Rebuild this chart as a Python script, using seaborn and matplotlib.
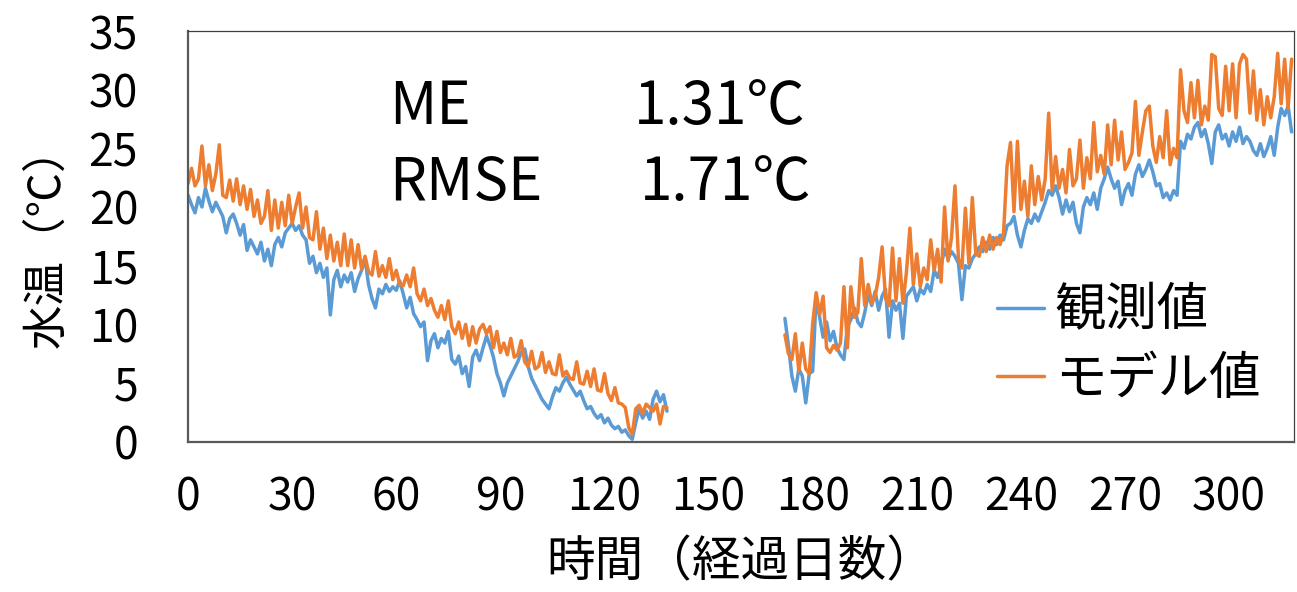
import numpy as np
import pandas as pd
import matplotlib
matplotlib.use("Agg")
import matplotlib.pyplot as plt
import seaborn as sns

# Daily water temperature (°C): observed vs. model, two measurement periods
days_early = list(range(0, 139))
obs_early = [
    21.0, 20.2, 19.5, 20.8, 20.0, 21.6, 20.5, 19.6, 20.4, 19.8,
    19.2, 17.8, 19.0, 19.4, 18.6, 17.6, 18.5, 16.3, 17.2, 16.6,
    16.0, 17.0, 15.4, 16.4, 15.0, 16.8, 17.4, 16.6, 17.8, 18.2,
    18.6, 18.0, 18.4, 17.6, 17.2, 15.2, 15.8, 14.4, 15.2, 14.0,
    14.8, 10.8, 13.8, 14.6, 13.2, 14.2, 13.6, 14.4, 12.8, 13.9,
    14.6, 15.6, 13.4, 12.2, 11.4, 13.0, 12.6, 13.4, 12.8, 13.2,
    12.9, 13.7, 12.6, 11.4, 12.3, 10.9, 10.4, 9.8, 10.2, 6.9,
    8.6, 9.2, 8.0, 8.8, 8.4, 9.4, 7.0, 6.6, 7.3, 5.8,
    6.4, 4.7, 7.2, 7.8, 6.9, 8.0, 9.0, 8.2, 7.2, 5.8,
    5.0, 3.9, 5.0, 5.6, 6.2, 6.8, 7.6, 7.9, 6.4, 5.4,
    4.8, 4.2, 3.6, 3.2, 2.8, 3.8, 4.6, 4.3, 5.0, 5.5,
    4.9, 4.4, 3.9, 4.3, 3.5, 2.8, 3.0, 2.4, 2.0, 2.3,
    1.6, 2.0, 1.4, 1.1, 1.3, 0.8, 1.0, 0.5, 0.2, 1.6,
    2.8, 2.0, 2.6, 1.9, 3.6, 4.3, 3.4, 4.0, 2.6,
]
mod_early = [
    22.0, 23.3, 21.8, 22.4, 25.2, 21.8, 23.6, 21.4, 22.8, 25.3,
    21.0, 20.8, 22.3, 20.5, 22.4, 20.2, 21.8, 19.8, 21.5, 19.2,
    20.6, 18.6, 19.2, 21.4, 18.0, 20.6, 18.2, 20.4, 18.4, 21.0,
    18.6, 20.0, 21.2, 18.2, 20.0, 17.4, 17.2, 19.6, 16.4, 18.2,
    15.6, 17.6, 15.4, 17.0, 15.0, 17.7, 15.0, 17.2, 14.8, 16.8,
    14.7, 15.8, 14.5, 14.2, 16.2, 14.1, 15.0, 14.0, 15.6, 13.8,
    14.6, 13.4, 13.3, 14.2, 13.2, 14.8, 12.6, 12.0, 13.0, 11.6,
    12.2, 11.2, 10.6, 11.6, 10.4, 12.0, 9.8, 9.2, 10.2, 8.8,
    10.0, 8.2, 9.8, 8.4, 9.6, 10.0, 9.2, 9.8, 8.0, 9.4,
    7.6, 8.4, 7.4, 8.8, 7.2, 7.4, 8.6, 6.8, 6.4, 7.7,
    6.2, 6.4, 7.6, 5.9, 6.8, 5.8, 5.7, 7.4, 5.6, 6.0,
    5.4, 5.3, 6.8, 5.0, 4.9, 6.0, 4.7, 6.2, 4.4, 4.3,
    5.8, 4.1, 3.5, 4.6, 3.3, 3.2, 2.9, 1.2, 0.6, 2.8,
    3.1, 2.4, 3.2, 2.9, 2.6, 3.2, 1.5, 3.0, 2.9,
]

days_late = list(range(172, 319))
obs_late = [
    10.5, 8.2, 5.6, 4.3, 6.2, 5.6, 3.3, 5.8, 6.0, 12.4,
    10.6, 8.9, 10.2, 8.6, 9.4, 8.0, 7.4, 7.0, 9.8, 10.4,
    11.4, 10.2, 9.8, 11.0, 12.6, 11.6, 12.8, 11.2, 12.4, 13.0,
    8.9, 12.0, 11.2, 11.8, 8.8, 12.4, 12.8, 13.2, 12.0, 13.0,
    12.6, 13.4, 12.8, 14.6, 14.0, 15.0, 16.4, 15.6, 16.2, 15.8,
    15.2, 12.1, 15.0, 14.8, 15.6, 16.0, 16.6, 16.2, 17.0, 16.4,
    17.4, 16.8, 17.6, 17.2, 18.4, 18.6, 19.2, 17.6, 16.6, 18.0,
    19.0, 18.6, 19.4, 18.8, 19.6, 20.4, 21.4, 21.0, 21.8, 20.8,
    19.4, 20.6, 19.6, 20.4, 18.6, 17.8, 20.0, 20.8, 20.2, 21.2,
    19.8, 21.6, 22.4, 23.4, 22.4, 21.6, 22.2, 20.2, 21.4, 22.0,
    21.0, 22.8, 23.6, 22.6, 23.2, 24.0, 23.0, 21.8, 22.0, 20.8,
    21.2, 20.6, 21.4, 21.0, 25.6, 25.0, 26.2, 25.8, 26.8, 27.2,
    26.0, 26.6, 25.4, 23.7, 26.4, 27.0, 25.8, 26.2, 25.2, 26.4,
    25.6, 26.8, 25.4, 26.0, 25.6, 24.8, 24.4, 25.4, 24.3, 25.0,
    26.0, 24.4, 26.8, 28.4, 27.8, 28.6, 26.4,
]
mod_late = [
    9.1, 7.5, 7.0, 9.2, 6.0, 8.4, 6.2, 5.8, 10.1, 12.7,
    10.8, 12.4, 8.0, 7.6, 8.2, 7.8, 8.4, 13.2, 8.0, 13.2,
    10.6, 11.0, 15.6, 11.6, 13.4, 11.8, 12.4, 14.0, 16.6, 12.2,
    11.6, 16.5, 12.0, 15.6, 11.8, 14.4, 18.2, 13.4, 16.0, 13.2,
    14.8, 13.8, 17.2, 14.6, 16.4, 13.6, 20.0, 15.4, 17.4, 21.8,
    15.6, 14.8, 19.9, 15.2, 20.8, 16.0, 15.8, 17.4, 16.2, 17.6,
    16.4, 17.4, 16.8, 17.8, 23.5, 25.5, 19.6, 25.6, 19.8, 22.2,
    19.2, 23.5, 20.2, 22.6, 20.6, 22.4, 28.0, 21.4, 24.3, 21.6,
    23.2, 21.2, 24.9, 21.8, 22.4, 25.7, 21.6, 24.2, 22.4, 27.2,
    23.0, 24.4, 22.8, 27.0, 23.6, 27.4, 24.0, 26.4, 23.2, 23.8,
    24.6, 29.0, 24.4, 26.4, 28.2, 28.6, 25.2, 23.8, 26.0, 24.2,
    28.2, 23.6, 25.0, 24.2, 31.7, 28.2, 27.2, 30.6, 27.6, 30.8,
    27.0, 28.6, 27.4, 33.0, 32.8, 28.4, 27.8, 32.0, 28.2, 32.2,
    27.6, 32.2, 33.0, 32.6, 28.0, 31.6, 27.4, 30.0, 27.0, 29.4,
    27.6, 29.4, 33.1, 28.8, 32.6, 28.4, 32.6,
]

series_names = ["観測値", "モデル値"]
stats_labels = ["ME", "RMSE"]
stats_values = ["1.31℃", "1.71℃"]
x_ticks = list(range(0, 301, 30))
y_ticks = list(range(0, 36, 5))

frames = []
for name, early, late in [(series_names[0], obs_early, obs_late),
                          (series_names[1], mod_early, mod_late)]:
    frames.append(pd.DataFrame({"day": days_early, "temp": early,
                                "series": name, "period": 0}))
    frames.append(pd.DataFrame({"day": days_late, "temp": late,
                                "series": name, "period": 1}))
df = pd.concat(frames, ignore_index=True)

sns.set_theme(style="white")
plt.rcParams["font.family"] = ["Noto Sans CJK JP", "DejaVu Sans"]
plt.rcParams["text.color"] = "black"
plt.rcParams["axes.labelcolor"] = "black"

fig = plt.figure(figsize=(12.97, 5.92), dpi=100)
ax = fig.add_axes([0.145, 0.254, 0.8527, 0.6936])

palette = {series_names[0]: "#5B9BD5", series_names[1]: "#ED7D31"}
sns.lineplot(data=df, x="day", y="temp", hue="series", units="period",
             estimator=None, palette=palette, linewidth=2.5, ax=ax,
             legend=False)

ax.set_xlim(0, 318.7)
ax.set_ylim(0, 35)
ax.set_xticks(x_ticks)
ax.set_yticks(y_ticks)
ax.tick_params(axis="both", direction="in", labelsize=32,
               labelcolor="black", width=1.3, color="#404040")
ax.tick_params(axis="y", length=13, pad=36)
ax.tick_params(axis="x", length=12, pad=24)

for side in ["left", "bottom"]:
    ax.spines[side].set_color("#595959")
    ax.spines[side].set_linewidth(1.6)
for side in ["top", "right"]:
    ax.spines[side].set_color("#404040")
    ax.spines[side].set_linewidth(0.9)

ax.set_xlabel("時間（経過日数）", fontsize=35, labelpad=12, color="black")
ax.set_ylabel("水温（℃）", fontsize=32, labelpad=14, color="black")

for i, (lab, val) in enumerate(zip(stats_labels, stats_values)):
    y = 0.790 - i * 0.128
    fig.text(0.300, y, lab, fontsize=42, ha="left", va="baseline",
             color="black")
    fig.text(0.489 + i * 0.004, y, val, fontsize=42, ha="left",
             va="baseline", color="black")

handles = [plt.Line2D([], [], color=palette[n], linewidth=2.5) for n in series_names]
leg = ax.legend(handles, series_names, loc="center left",
                bbox_to_anchor=(0.731, 0.235), frameon=False, fontsize=37,
                handlelength=0.93, handletextpad=0.2, labelspacing=0.29,
                borderaxespad=0, borderpad=0)
for t in leg.get_texts():
    t.set_color("black")

fig.savefig("out.png", dpi=100)
